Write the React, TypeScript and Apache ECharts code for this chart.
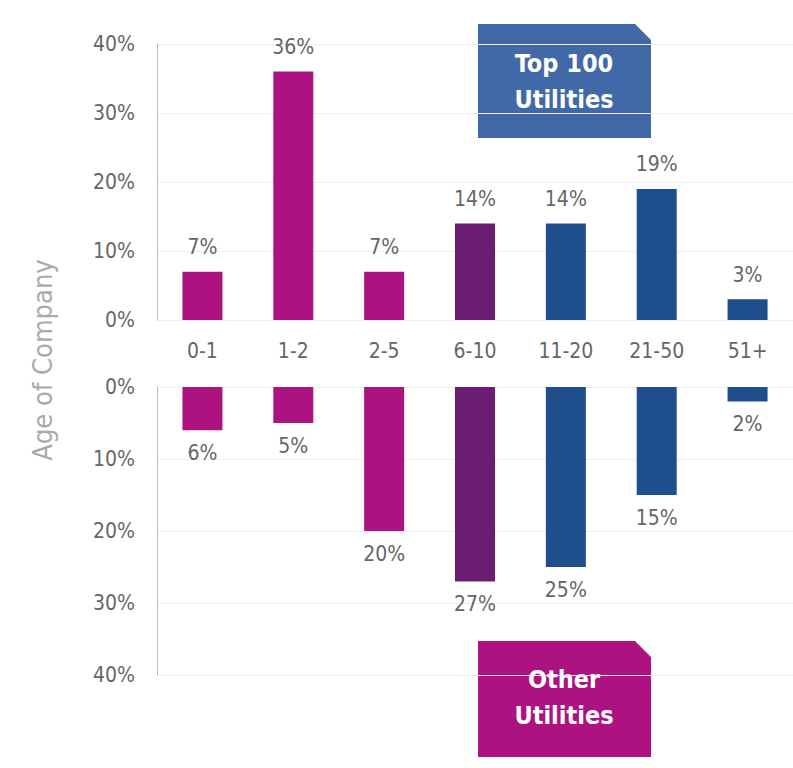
import { useEffect, useRef } from "react";
import * as echarts from "echarts";

const categories = ["0-1", "1-2", "2-5", "6-10", "11-20", "21-50", "51+"];
const top100 = [7, 36, 7, 14, 14, 19, 3];
const others = [6, 5, 20, 27, 25, 15, 2];
const barColors = ["#AD1380", "#AD1380", "#AD1380", "#6B1D74", "#1F4E8C", "#1F4E8C", "#1F4E8C"];

const FONT = "'Liberation Sans Narrow', 'DejaVu Sans Condensed', Roboto, sans-serif";
const GREY = "#666";

export default function App() {
  const ref = useRef<HTMLDivElement>(null);

  useEffect(() => {
    document.body.style.margin = "0";
    if (!ref.current) return;
    const chart = echarts.init(ref.current, null, { renderer: "svg" });
    const mk = (vals: number[], pos: string) =>
      vals.map((v, i) => ({ value: v, itemStyle: { color: barColors[i] } }));
    const yAxisBase = {
      type: "value",
      min: 0,
      max: 40,
      interval: 10,
      axisLine: { show: true, lineStyle: { color: "#bbb" } },
      axisTick: { show: false },
      splitLine: { lineStyle: { color: "#eee" } },
      axisLabel: { color: GREY, fontSize: 21, fontFamily: FONT, margin: 22, formatter: "{value}%" },
    };
    chart.setOption({
      animation: false,
      grid: [
        { left: 157, right: -10, top: 44, bottom: 448 },
        { left: 157, right: -10, top: 387, bottom: 93 },
      ],
      xAxis: [
        {
          type: "category",
          data: categories,
          gridIndex: 0,
          axisLine: { lineStyle: { color: "#eee" } },
          axisTick: { show: false },
          axisLabel: { color: GREY, fontSize: 21, fontFamily: FONT, margin: 20 },
        },
        {
          type: "category",
          data: categories,
          gridIndex: 1,
          axisLine: { show: false },
          axisTick: { show: false },
          axisLabel: { show: false },
        },
      ],
      yAxis: [
        { ...yAxisBase, gridIndex: 0 },
        { ...yAxisBase, gridIndex: 1, inverse: true },
      ],
      series: [
        {
          type: "bar",
          xAxisIndex: 0,
          yAxisIndex: 0,
          barWidth: 40,
          data: mk(top100, "top"),
          label: { show: true, position: "top", distance: 14, formatter: "{c}%", color: GREY, fontSize: 21, fontFamily: FONT },
        },
        {
          type: "bar",
          xAxisIndex: 1,
          yAxisIndex: 1,
          barWidth: 40,
          data: mk(others, "bottom"),
          label: { show: true, position: "bottom", distance: 12, formatter: "{c}%", color: GREY, fontSize: 21, fontFamily: FONT },
        },
      ],
      graphic: [
        {
          type: "text",
          x: 42,
          y: 360,
          rotation: Math.PI / 2,
          style: { text: "Age of Company", fill: "#aaa", fontSize: 27, fontFamily: FONT, align: "center", verticalAlign: "middle" },
        },
        {
          type: "polygon",
          shape: { points: [[478, 24], [635, 24], [651, 40], [651, 138], [478, 138]] },
          style: { fill: "#4169A8" },
        },
        {
          type: "text",
          x: 564,
          y: 81,
          style: { text: "Top 100\nUtilities", fill: "#fff", fontSize: 25, fontWeight: "bold", lineHeight: 36, fontFamily: FONT, align: "center", verticalAlign: "middle" },
        },
        {
          type: "polygon",
          shape: { points: [[478, 641], [635, 641], [651, 657], [651, 757], [478, 757]] },
          style: { fill: "#AD1380" },
        },
        {
          type: "text",
          x: 564,
          y: 697,
          style: { text: "Other\nUtilities", fill: "#fff", fontSize: 25, fontWeight: "bold", lineHeight: 36, fontFamily: FONT, align: "center", verticalAlign: "middle" },
        },
      ],
    });
    return () => chart.dispose();
  }, []);

  return <div ref={ref} style={{ width: 793, height: 768 }} />;
}
